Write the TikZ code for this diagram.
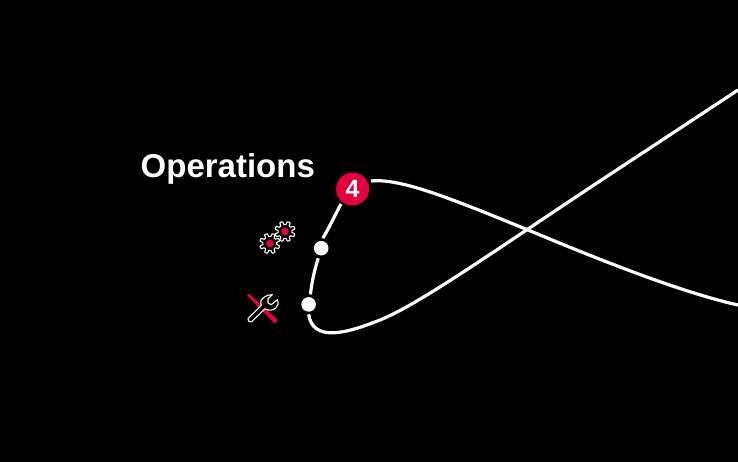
\documentclass[tikz,border=0pt]{standalone}
\usepackage{fontspec}
\setmainfont{Liberation Sans}
\definecolor{accent}{HTML}{E4003F}
\tikzset{
  curveline/.style={draw=white,line width=3.2pt,line cap=butt},
  dotnode/.style={circle,fill=white,minimum size=14.6pt,inner sep=0pt},
  badge/.style={circle,fill=accent,minimum size=33pt,inner sep=0pt,text=white,font=\bfseries\fontsize{25}{25}\selectfont},
  title/.style={text=white,font=\bfseries\fontsize{33}{34}\selectfont,inner sep=0pt},
  iconline/.style={draw=white,line width=1.1pt,fill=black,line join=round},
  gear/.pic={
    \draw[iconline] plot[samples=193,domain=0:360] (\x+11:{8.5+1.6*tanh(3*sin(8*\x))}) -- cycle;
    \fill[accent] (0,0) circle (3.8);
  }
}
\begin{document}
\begin{tikzpicture}[x=1pt,y=-1pt]
\useasboundingbox[fill=black] (0,0) rectangle (738,462);
\coordinate (e1) at (738,90);
\coordinate (e2) at (738,305);
\node[title,anchor=base west] (t) at (140.5,177.5) {Operations};
\node[dotnode] (d2) at (308.6,304.4) {};
\node[dotnode] (d1) at (321.2,248.2) {};
\node[badge] (b) at (352.6,189) {4};
% long curve
\draw[curveline] (e1) -- (600,181) .. controls (500,247) and (420,304) .. (380,320)
  .. controls (345,334) and (313,342) .. ([yshift=-2.5pt]d2.south);
\draw[curveline] ([xshift=1.8pt,yshift=2.5pt]d2.north) .. controls (312,281) and (314.5,270) .. ([xshift=-3pt,yshift=-2.5pt]d1.south);
\draw[curveline] ([xshift=1.6pt,yshift=2.5pt]d1.north) .. controls (328,230) and (333,219) .. (341,204);
\draw[curveline] (371,181) .. controls (400,178) and (450,198) .. (528,230)
  .. controls (600,260) and (680,292) .. (e2);
% gears
\pic at (269.8,243.5) {gear};
\pic at (285,231.5) {gear};
% wrench
\fill[accent] (248.8,293.6) -- (247.2,295.2) -- (274.5,323.5) -- (278,320) -- cycle;
\draw[iconline] (248,318.7) -- (261.3,305.3)
  .. controls (260,301) and (261,300) .. (264,297.3)
  .. controls (266,295.5) and (269,294.5) .. (272.3,294.7)
  -- (268,298.7) -- (268,303) -- (271.3,304.7) -- (277.3,299.7)
  .. controls (279,303) and (278,306) .. (275.7,308)
  .. controls (273,310.5) and (269,311) .. (265,308.8)
  -- (251.3,322) .. controls (249,322) and (247.5,320.5) .. (248,318.7) -- cycle;
\end{tikzpicture}
\end{document}
